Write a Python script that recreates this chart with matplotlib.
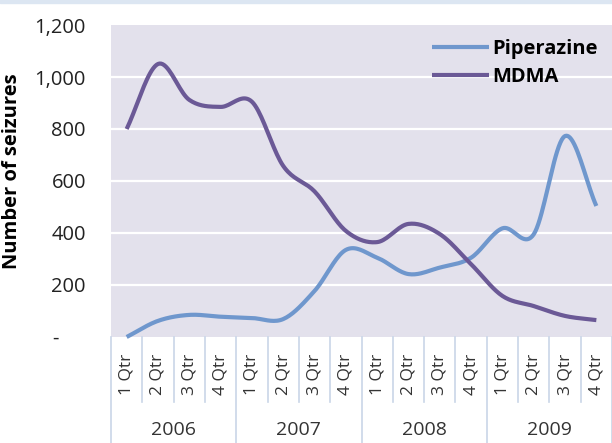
import numpy as np
import matplotlib

matplotlib.use("Agg")
import matplotlib.pyplot as plt
from matplotlib.transforms import blended_transform_factory

plt.rcParams["font.family"] = ["Open Sans", "DejaVu Sans"]

years = ["2006", "2007", "2008", "2009"]
quarters = ["1 Qtr", "2 Qtr", "3 Qtr", "4 Qtr"]
piperazine = [0, 62, 85, 78, 73, 69, 177, 335, 305, 242, 267, 305, 418, 395, 773, 504]
mdma = [800, 1050, 912, 885, 905, 658, 560, 408, 365, 435, 396, 280, 158, 119, 81, 65]

BG = "#E3E1EC"
PIP_C = "#6F97CD"
MDMA_C = "#6B5996"
SEP_C = "#C9D6E8"


def smooth(y, n=20):
    # Catmull-Rom through the points, similar to Excel's smoothed line
    y = np.asarray(y, float)
    x = np.arange(len(y), dtype=float)
    px = np.concatenate([[2 * x[0] - x[1]], x, [2 * x[-1] - x[-2]]])
    py = np.concatenate([[2 * y[0] - y[1]], y, [2 * y[-1] - y[-2]]])
    xs, ys = [], []
    t = np.linspace(0, 1, n, endpoint=False)
    for i in range(1, len(px) - 2):
        for arr, out in ((px, xs), (py, ys)):
            p0, p1, p2, p3 = arr[i - 1], arr[i], arr[i + 1], arr[i + 2]
            out.append(0.5 * (2 * p1 + (-p0 + p2) * t
                              + (2 * p0 - 5 * p1 + 4 * p2 - p3) * t ** 2
                              + (-p0 + 3 * p1 - 3 * p2 + p3) * t ** 3))
    xs.append([x[-1]])
    ys.append([y[-1]])
    return np.concatenate(xs), np.concatenate(ys)


fig = plt.figure(figsize=(6.12, 4.43), dpi=100)
fig.patches.append(plt.Rectangle((0, 0.994), 1, 0.006, transform=fig.transFigure,
                                 color="#DCE6F2", zorder=0))
ax = fig.add_axes([111 / 612, 1 - 337 / 443, 501 / 612, 312 / 443])
ax.set_facecolor(BG)
for s in ax.spines.values():
    s.set_visible(False)

n = len(piperazine)
ax.set_xlim(-0.5, n - 0.5)
ax.set_ylim(0, 1200)
ax.set_yticks(range(0, 1201, 200))
# accounting style: zero shown as a dash, set in from the right
ax.set_yticklabels(["-     "] + [f"{v:,}" for v in range(200, 1201, 200)])
ax.tick_params(axis="y", length=0, pad=18, labelsize=14.5, labelcolor="#222222")
ax.set_xticks([])
for v in range(200, 1001, 200):
    ax.axhline(v, color="white", lw=1.6, zorder=1)

xs, ys = smooth(piperazine)
ax.plot(xs, ys, color=PIP_C, lw=3, label="Piperazine", zorder=3,
        solid_capstyle="butt", clip_on=False)
xs, ys = smooth(mdma)
ax.plot(xs, ys, color=MDMA_C, lw=3, label="MDMA", zorder=3,
        solid_capstyle="butt", clip_on=False)

ax.set_ylabel("Number of seizures", fontsize=14.5, fontweight="bold")
ax.yaxis.set_label_coords(-0.178, 0.53)

leg = ax.legend(loc="upper right", bbox_to_anchor=(0.972, 0.955), frameon=False,
                borderpad=0, borderaxespad=0, handlelength=2.85, handletextpad=0.15,
                labelspacing=0.4, prop={"weight": "bold", "size": 14.5})

# category axis: quarters and years
tr = blended_transform_factory(ax.transData, ax.transAxes)
for i in range(n + 1):
    b = i - 0.5
    bottom = -0.34 if i % 4 == 0 else -0.208
    ax.plot([b, b], [0, bottom], color=SEP_C, lw=1.2, transform=tr, clip_on=False)
for i in range(n):
    ax.text(i, -0.119, quarters[i % 4], rotation=90, ha="center", va="center",
            fontsize=12.5, color="#333333", transform=tr)
for j, yr in enumerate(years):
    ax.text(4 * j + 1.5, -0.298, yr, ha="center", va="center", fontsize=14,
            color="#333333", transform=tr)

fig.savefig("out.png", dpi=100)
